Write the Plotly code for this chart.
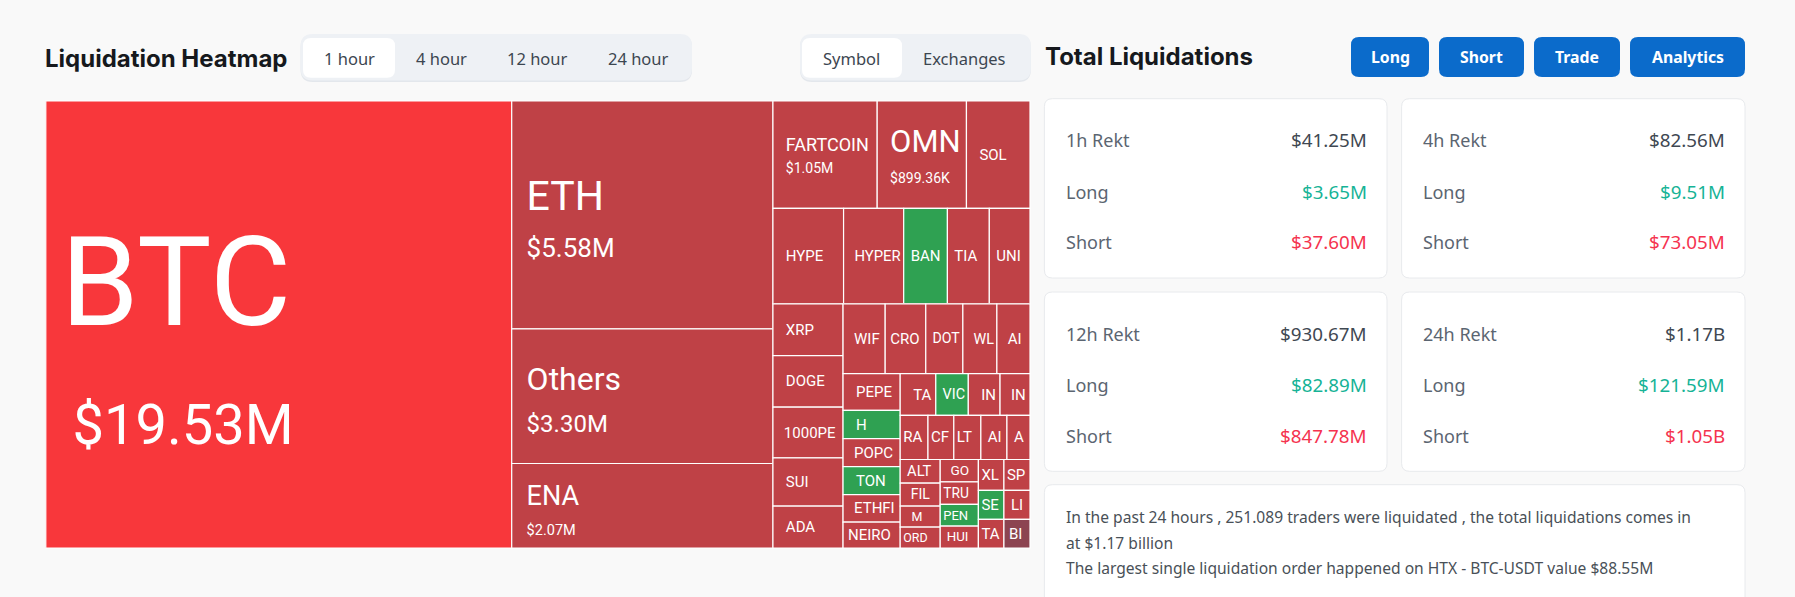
import plotly.graph_objects as go

W, H = 1795, 597
PAGE = "#f9f9f9"
RED, HOT, GREEN, DARK = "#bf4146", "#f8373b", "#2fa152", "#8c4451"

# group nodes of the heatmap (id, parent)
group_ids = ["all", "major", "minor", "r1", "r2", "rest", "cA", "rB", "rW", "rC", "cP", "rD", "rT", "rR", "rE", "cAlt", "cGoa", "cXl", "cSp"]
group_parents = ["", "all", "all", "minor", "minor", "minor", "rest", "rest", "rB", "rB", "rC", "rC", "rD", "rD", "rD", "rE", "rE", "rE", "rE"]

# symbols with liquidation value in $M
symbols = ["BTC", "ETH", "Others", "ENA",
           "FARTCOIN", "OMNI", "SOL",
           "HYPE", "HYPER", "BAN", "TIA", "UNI",
           "XRP", "DOGE", "1000PEPE", "SUI", "ADA",
           "WIF", "CRO", "DOT", "WLD", "AIN",
           "PEPE", "H", "POPCAT", "TON", "ETHFI", "NEIRO",
           "TAN", "VIC", "INJ", "IN",
           "RA", "CF", "LT", "AI", "A",
           "ALT", "FIL", "M", "ORD",
           "GOA", "TRU", "PEN", "HUI",
           "XL", "SE", "TA",
           "SP", "LI", "BI"]
symbol_parents = ["all", "major", "major", "major",
                  "r1", "r1", "r1",
                  "r2", "r2", "r2", "r2", "r2",
                  "cA", "cA", "cA", "cA", "cA",
                  "rW", "rW", "rW", "rW", "rW",
                  "cP", "cP", "cP", "cP", "cP", "cP",
                  "rT", "rT", "rT", "rT",
                  "rR", "rR", "rR", "rR", "rR",
                  "cAlt", "cAlt", "cAlt", "cAlt",
                  "cGoa", "cGoa", "cGoa", "cGoa",
                  "cXl", "cXl", "cXl",
                  "cSp", "cSp", "cSp"]
symbol_values = [19.53, 5.58, 3.30, 2.07,
                 1.05, 0.899, 0.64,
                 0.632, 0.538, 0.391, 0.375, 0.364,
                 0.341, 0.339, 0.333, 0.317, 0.276,
                 0.276, 0.266, 0.243, 0.223, 0.217,
                 0.197, 0.151, 0.150, 0.150, 0.147, 0.139,
                 0.139, 0.127, 0.124, 0.117,
                 0.115, 0.107, 0.112, 0.108, 0.0955,
                 0.0887, 0.086, 0.0786, 0.0786,
                 0.080, 0.0807, 0.0775, 0.0786,
                 0.0741, 0.0693, 0.0686,
                 0.0756, 0.0707, 0.070]
symbol_state = ["hot", "red", "red", "red",
                "red", "red", "red",
                "red", "red", "green", "red", "red",
                "red", "red", "red", "red", "red",
                "red", "red", "red", "red", "red",
                "red", "green", "red", "green", "red", "red",
                "red", "green", "red", "red",
                "red", "red", "red", "red", "red",
                "red", "red", "red", "red",
                "red", "red", "green", "red",
                "red", "green", "red",
                "red", "red", "dark"]
value_labels = {"BTC": "$19.53M", "ETH": "$5.58M", "Others": "$3.30M", "ENA": "$2.07M", "FARTCOIN": "$1.05M", "OMNI": "$899.36K"}
# what stays visible of each label inside its tile
visible = {"OMNI": "OMN", "1000PEPE": "1000PE", "POPCAT": "POPC", "WLD": "WL", "AIN": "AI", "TAN": "TA", "INJ": "IN", "GOA": "GO"}
name_px = {"BTC": 125, "ETH": 41, "Others": 32, "ENA": 27, "FARTCOIN": 18, "OMNI": 31}
value_px = {"BTC": 56, "ETH": 26, "Others": 24, "ENA": 14.5, "FARTCOIN": 14, "OMNI": 14}
base_px = {"BTC": 92, "ETH": 36, "Others": 32, "ENA": 23, "FARTCOIN": 17, "OMNI": 24}
# first-line height that sets where the label block sits in its tile
lift_px = {"BTC": 144, "ETH": 47, "Others": 39, "ENA": 35}
# gap in px between tile edge and label
inset = {"BTC": 15.4, "ETH": 15, "Others": 15, "ENA": 14, "FARTCOIN": 13.5, "OMNI": 13.5, "SOL": 13.5,
         "HYPE": 13.5, "HYPER": 10, "BAN": 8, "TIA": 8, "UNI": 7,
         "XRP": 13.5, "DOGE": 13.5, "1000PEPE": 12, "SUI": 13.5, "ADA": 13.5,
         "WIF": 11, "CRO": 5, "DOT": 6, "WLD": 12, "AIN": 12,
         "PEPE": 13.5, "H": 13.5, "POPCAT": 10, "TON": 13.5, "ETHFI": 10, "NEIRO": 5,
         "TAN": 13, "VIC": 6, "INJ": 13, "IN": 10,
         "RA": 4, "CF": 3, "LT": 4, "AI": 6, "A": 7,
         "ALT": 8, "FIL": 12, "M": 13, "ORD": 4,
         "GOA": 10, "TRU": 4, "PEN": 4, "HUI": 8,
         "XL": 3, "SE": 3, "TA": 3, "SP": 3, "LI": 7, "BI": 5}
value_inset = {"BTC": 27}
symbol_color = {"hot": HOT, "red": RED, "green": GREEN, "dark": DARK}

# page texts
time_tabs = ["1 hour", "4 hour", "12 hour", "24 hour"]
view_tabs = ["Symbol", "Exchanges"]
action_buttons = ["Long", "Short", "Trade", "Analytics"]
card_titles = ["1h Rekt", "4h Rekt", "12h Rekt", "24h Rekt"]
card_totals = ["$41.25M", "$82.56M", "$930.67M", "$1.17B"]
card_longs = ["$3.65M", "$9.51M", "$82.89M", "$121.59M"]
card_shorts = ["$37.60M", "$73.05M", "$847.78M", "$1.05B"]
summary_lines = ["In the past 24 hours , 251.089 traders were liquidated , the total liquidations comes in",
                 "at $1.17 billion",
                 "The largest single liquidation order happened on HTX - BTC-USDT value $88.55M"]

FONT = "Noto Sans"
TILE_FONT = "Roboto"


def gap(px_wide):
    n = max(0, round((px_wide - 3) / 2))
    return "<span style='font-size:8px'>" + "&nbsp;" * n + "</span>" if n else ""


def tile_text(s):
    pad = gap(inset.get(s, 13.5))
    first = visible.get(s, s)
    if s in value_labels:
        pad2 = gap(value_inset.get(s, inset.get(s, 13.5)))
        lift = f"<span style='font-size:{lift_px[s]}px'>&nbsp;</span>" if s in lift_px else ""
        return (f"{pad}<span style='font-size:{name_px[s]}px'>{first}</span>{lift}<br>"
                f"{pad2}<span style='font-size:{value_px[s]}px'>{value_labels[s]}</span>")
    return pad + first


n_groups = len(group_ids)
trace = go.Treemap(
    ids=symbols + group_ids,
    labels=symbols + group_ids,
    parents=symbol_parents + group_parents,
    values=symbol_values + [0] * n_groups,
    branchvalues="remainder",
    sort=False,
    text=[tile_text(s) for s in symbols] + [""] * n_groups,
    textinfo="text",
    textposition="middle left",
    hoverinfo="skip",
    insidetextfont=dict(family=TILE_FONT, color="#ffffff",
                        size=[base_px.get(s, 15) for s in symbols] + [10] * n_groups),
    tiling=dict(packing="slice-dice", pad=0),
    pathbar=dict(visible=False),
    marker=dict(colors=[symbol_color[c] for c in symbol_state] + [RED] * n_groups,
                line=dict(color="#ffffff", width=[1.2] * len(symbols) + [0] * n_groups),
                pad=dict(t=0, l=0, r=0, b=0), depthfade=False),
    domain=dict(x=[45.8 / W, 1030 / W], y=[1 - 548 / H, 1 - 101 / H]),
)


def px(x):
    return x / W


def py(y):
    return 1 - y / H


def rrect(x0, y0, x1, y1, r, fill, line=None, lw=0):
    a, b = r / W, r / H
    X0, X1, Y0, Y1 = px(x0), px(x1), py(y0), py(y1)
    path = (f"M{X0 + a},{Y0} L{X1 - a},{Y0} Q{X1},{Y0} {X1},{Y0 - b} L{X1},{Y1 + b} Q{X1},{Y1} {X1 - a},{Y1} "
            f"L{X0 + a},{Y1} Q{X0},{Y1} {X0},{Y1 + b} L{X0},{Y0 - b} Q{X0},{Y0} {X0 + a},{Y0} Z")
    return dict(type="path", xref="paper", yref="paper", path=path, fillcolor=fill, layer="below",
                line=dict(color=line or fill, width=lw))


def label(x, y, text, size, color, anchor="left", family=FONT, bold=False):
    return dict(xref="paper", yref="paper", x=px(x), y=py(y), text=f"<b>{text}</b>" if bold else text,
                showarrow=False, xanchor=anchor, yanchor="middle", xshift=0, yshift=0,
                font=dict(family=family, size=size, color=color), borderpad=0, borderwidth=0)


shapes, notes = [], []
notes.append(label(45, 58, "Liquidation Heatmap", 24, "#16191d", family="Inter", bold=True))
notes.append(label(1044.5, 57, "Total Liquidations", 24, "#16191d", family="Inter", bold=True))

# tab strips
for x0, x1, ax0, ax1 in [(300.6, 692, 303, 395), (800, 1030.8, 802, 902)]:
    shapes.append(rrect(x0, 35, x1, 82, 12, "#e3e7ec"))
    shapes.append(rrect(x0, 34, x1, 80.5, 12, "#eef1f5"))
    shapes.append(rrect(ax0, 38, ax1, 77.7, 8, "#ffffff"))
for name, cx in zip(time_tabs, [349, 441, 537.4, 638]):
    notes.append(label(cx, 58, name, 16.5, "#3c4650", "center"))
for name, cx in zip(view_tabs, [851, 964.5]):
    notes.append(label(cx, 58, name, 16.5, "#3c4650", "center"))

# action buttons
for name, (x0, x1) in zip(action_buttons, [(1351, 1429), (1439, 1524), (1534, 1620), (1630, 1745)]):
    shapes.append(rrect(x0, 37, x1, 77, 8, "#0b6bcb"))
    notes.append(label((x0 + x1) / 2, 57, name, 15.8, "#ffffff", "center", bold=True))

# stat cards
card_boxes = [(1044.4, 98.7, 1387, 278), (1401.6, 98.7, 1745, 278), (1044.4, 292, 1387, 471.3), (1401.6, 292, 1745, 471.3)]
for box, title, total, long_v, short_v in zip(card_boxes, card_titles, card_totals, card_longs, card_shorts):
    x0, y0, x1, y1 = box
    shapes.append(rrect(x0, y0, x1, y1, 8, "#ffffff", "#e8eaed", 1))
    for dy, left, right, color in [(41.5, title, total, "#3f4852"), (93, "Long", long_v, "#16b396"), (143.7, "Short", short_v, "#f5334f")]:
        notes.append(label(x0 + 21.3, y0 + dy, left, 18, "#5b6571"))
        notes.append(label(x1 - 20.3, y0 + dy, right, 18.8, color, "right"))

# summary card
shapes.append(rrect(1044.4, 484.7, 1745, 640, 8, "#ffffff", "#e8eaed", 1))
for line, y in zip(summary_lines, [517.3, 543.3, 568.3]):
    notes.append(label(1065.7, y, line, 15.6, "#495057"))

fig = go.Figure(trace)
fig.update_layout(width=W, height=H, autosize=False, margin=dict(l=0, r=0, t=0, b=0, pad=0),
                  paper_bgcolor=PAGE, plot_bgcolor=PAGE, shapes=shapes, annotations=notes, showlegend=False)
fig.write_html("out.html", post_script="document.body.style.margin='0';document.body.style.background='%s';" % PAGE,
               config=dict(displayModeBar=False))
